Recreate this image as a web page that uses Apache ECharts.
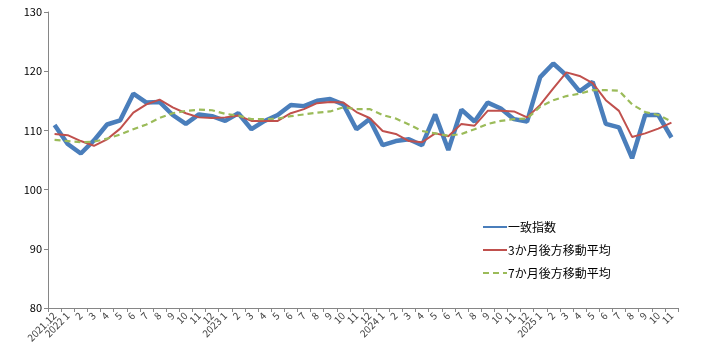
<!DOCTYPE html>
<html><head><meta charset="utf-8">
<script src="https://cdn.jsdelivr.net/npm/echarts@6/dist/echarts.min.js"></script>
<style>html,body{margin:0;padding:0;background:#fff}#c{width:701px;height:357px}</style>
</head><body><div id="c"></div>
<script>
const categories = ["2021.12","2022 1","2","3","4","5","6","7","8","9","10","11","12",
 "2023 1","2","3","4","5","6","7","8","9","10","11","12",
 "2024 1","2","3","4","5","6","7","8","9","10","11","12",
 "2025 1","2","3","4","5","6","7","8","9","10","11"];
const coincident = [110.9,107.7,106.1,108.3,111.0,111.7,116.2,114.7,114.8,112.6,111.1,112.7,112.4,
 111.6,112.9,110.2,111.6,112.6,114.3,114.1,115.0,115.3,114.4,110.2,111.9,
 107.5,108.2,108.5,107.5,112.7,106.7,113.5,111.5,114.7,113.7,111.9,111.5,
 119.0,121.3,119.3,116.6,118.2,111.1,110.5,105.3,112.6,112.6,108.8];
const ma3 = [109.4,109.2,108.2,107.4,108.5,110.3,113.0,114.4,115.2,113.9,112.9,112.2,112.1,
 112.2,112.5,111.6,111.6,111.6,112.9,113.6,114.6,114.8,114.7,113.1,112.1,
 109.9,109.4,108.2,108.0,109.5,109.0,111.1,110.8,113.3,113.3,113.2,112.2,
 114.3,117.1,119.8,119.2,118.0,115.1,113.3,108.9,109.5,110.3,111.3];
const ma7 = [108.4,108.2,108.0,108.1,108.6,109.3,110.2,111.0,112.1,112.9,113.3,113.5,113.4,
 112.8,112.5,111.9,111.9,112.0,112.4,112.7,113.0,113.2,113.9,113.6,113.6,
 112.6,112.0,111.0,109.9,109.5,109.1,109.4,110.2,111.1,111.6,111.9,112.0,
 114.0,115.1,115.8,116.2,116.8,116.8,116.7,114.4,113.1,112.6,111.5];
const seriesNames = ["一致指数","3か月後方移動平均","7か月後方移動平均"];

const chart = echarts.init(document.getElementById('c'), null, {renderer:'canvas'});
const font = '"Noto Sans CJK JP", "DejaVu Sans", sans-serif';
chart.setOption({
  animation:false,
  textStyle:{fontFamily:font},
  grid:{left:48,right:23,top:12,bottom:49,containLabel:false},
  legend:{
    orient:'vertical', left:482, top:221, padding:0, itemWidth:24, itemHeight:12, itemGap:11,
    itemStyle:{color:'rgba(0,0,0,0)',borderColor:'rgba(0,0,0,0)',borderWidth:0},
    textStyle:{color:'#000',fontSize:12,fontFamily:font,padding:[0,0,0,-4]},
    data:seriesNames
  },
  xAxis:{
    type:'category', data:categories, boundaryGap:true,
    axisLine:{lineStyle:{color:'#868686',width:1}},
    axisTick:{show:true,interval:0,length:4,lineStyle:{color:'#868686'}},
    axisLabel:{interval:0,rotate:45,fontSize:10,color:'#444',margin:6,fontFamily:font},
    splitLine:{show:false}
  },
  yAxis:{
    type:'value', min:80, max:130, interval:10,
    axisLine:{show:true,lineStyle:{color:'#868686',width:1}},
    axisTick:{show:true,length:4,lineStyle:{color:'#868686'}},
    axisLabel:{fontSize:11,color:'#000',margin:6,fontFamily:font},
    splitLine:{show:false}
  },
  series:[
    {name:seriesNames[0],type:'line',data:coincident,symbol:'none',z:3,
     lineStyle:{color:'#4a7ebb',width:4.5},itemStyle:{color:'#4a7ebb'}},
    {name:seriesNames[1],type:'line',data:ma3,symbol:'none',z:4,
     lineStyle:{color:'#c0504d',width:2},itemStyle:{color:'#c0504d'}},
    {name:seriesNames[2],type:'line',data:ma7,symbol:'none',z:5,
     lineStyle:{color:'#9bbb59',width:2.2,type:[6,4]},itemStyle:{color:'#9bbb59'}}
  ]
});
</script></body></html>
